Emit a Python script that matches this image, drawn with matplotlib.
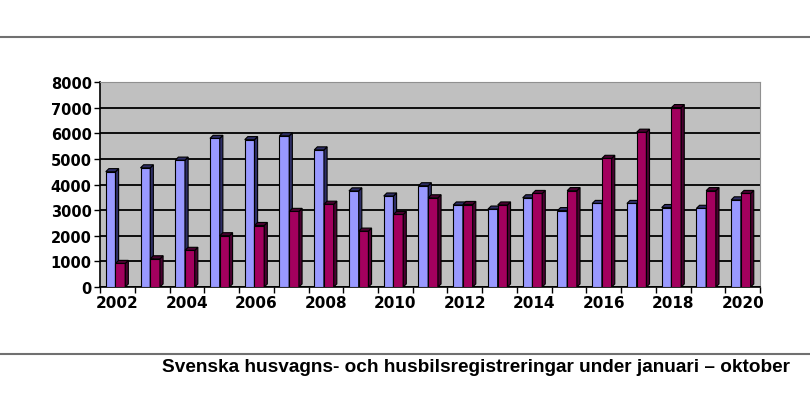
import matplotlib
matplotlib.use('Agg')
import matplotlib.pyplot as plt
from matplotlib.patches import Polygon
from matplotlib.lines import Line2D

# data
years = list(range(2002, 2021))
husvagnar = [4500, 4650, 4950, 5800, 5750, 5900, 5350, 3750, 3550, 3950,
             3200, 3040, 3480, 2980, 3260, 3260, 3100, 3070, 3400]
husbilar = [920, 1100, 1430, 2000, 2400, 2950, 3230, 2180, 2830, 3480,
            3220, 3200, 3650, 3760, 5020, 6040, 7000, 3760, 3650]
yticks = [0, 1000, 2000, 3000, 4000, 5000, 6000, 7000, 8000]

fig = plt.figure(figsize=(8.1, 4.14), dpi=100)
ax = fig.add_axes([0.1235, 0.3043, 0.815, 0.4952])
ax.set_facecolor('#C0C0C0')

w = 0.28   # bar width (category units)
dx = 0.09  # fake 3d depth
dy = 120

def bar3d(x0, val, front, side):
    ax.add_patch(Polygon([(x0, 0), (x0 + w, 0), (x0 + w, val), (x0, val)],
                         closed=True, fc=front, ec='black', lw=0.8, zorder=3))
    ax.add_patch(Polygon([(x0 + w, 0), (x0 + w + dx, dy), (x0 + w + dx, val + dy), (x0 + w, val)],
                         closed=True, fc=side, ec='black', lw=0.8, zorder=3))
    ax.add_patch(Polygon([(x0, val), (x0 + dx, val + dy), (x0 + w + dx, val + dy), (x0 + w, val)],
                         closed=True, fc=side, ec='black', lw=0.8, zorder=3))

for i in range(len(years)):
    bar3d(i - 0.335, husvagnar[i], '#9999FF', '#2E2E66')
    bar3d(i - 0.055, husbilar[i], '#A3005E', '#4A0030')

ax.set_xlim(-0.5, len(years) - 0.5)
ax.set_ylim(0, 8000)
ax.set_yticks(yticks)
ax.set_yticklabels([str(v) for v in yticks], fontsize=10.5, fontweight='bold', family='DejaVu Sans')
ax.yaxis.grid(True, color='black', lw=1.3, zorder=1)
ax.set_axisbelow(True)

ax.set_xticks(range(0, len(years), 2))
ax.set_xticklabels([str(y) for y in years[::2]], fontsize=11, fontweight='bold', family='DejaVu Sans')
ax.set_xticks([i + 0.5 for i in range(-1, len(years))], minor=True)
ax.tick_params(axis='x', which='major', length=0, pad=6)
ax.tick_params(axis='x', which='minor', length=4, width=1, direction='out')
ax.tick_params(axis='y', length=4, width=1, pad=2)

for s in ['top', 'right']:
    ax.spines[s].set_color('#909090')
    ax.spines[s].set_linewidth(0.8)
ax.spines['left'].set_linewidth(1.2)
ax.spines['bottom'].set_linewidth(1.2)

# horizontal rules above and below the chart
fig.add_artist(Line2D([0, 1], [1 - 38 / 414, 1 - 38 / 414], color='#707070', lw=1.5))
fig.add_artist(Line2D([0, 1], [1 - 355 / 414, 1 - 355 / 414], color='#707070', lw=1.5))

fig.text(790 / 810, 1 - 368 / 414, 'Svenska husvagns- och husbilsregistreringar under januari \u2013 oktober',
         ha='right', va='center', fontsize=13.7, fontweight='bold',
         family=['Liberation Sans Narrow', 'Liberation Sans', 'DejaVu Sans'])

fig.savefig('out.png', dpi=100)
